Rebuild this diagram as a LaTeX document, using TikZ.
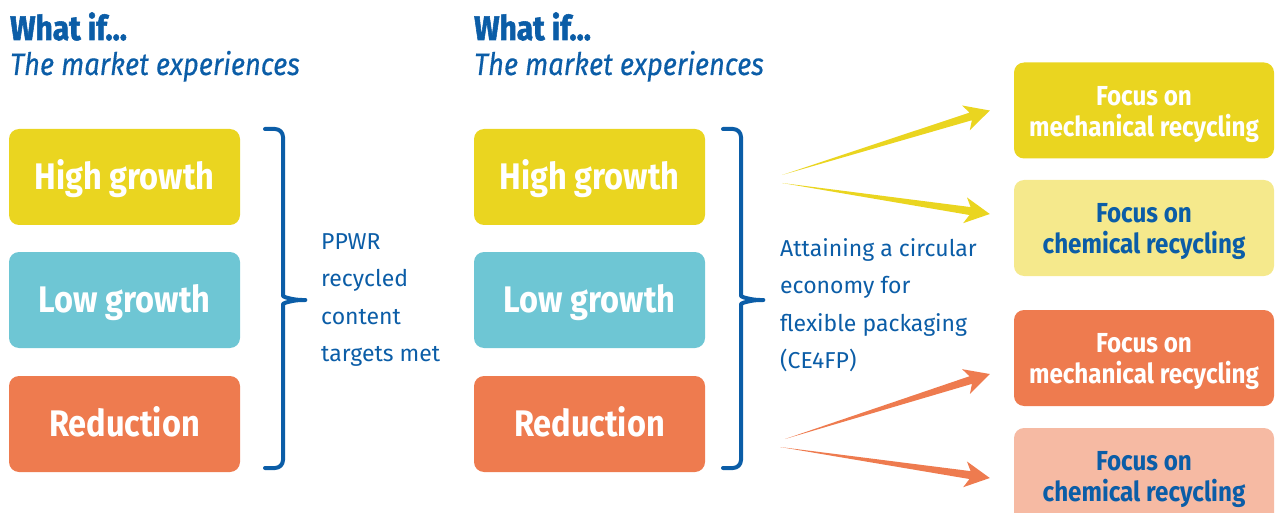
\documentclass[tikz,border=0pt]{standalone}
\usepackage{fontspec}
\setmainfont{Fira Sans}
\newfontfamily\boxfont{Fira Sans}[FakeStretch=0.88]
\newfontfamily\headfont{Fira Sans}[FakeStretch=0.88, BoldFeatures={FakeBold=1.6}, ItalicFeatures={FakeBold=0.4}]
\usetikzlibrary{calc}

\definecolor{cblue}{HTML}{0B5DA7}
\definecolor{cyellow}{HTML}{EAD520}
\definecolor{cyellowlt}{HTML}{F5E98C}
\definecolor{cteal}{HTML}{6EC6D4}
\definecolor{corange}{HTML}{EE7B4F}
\definecolor{corangelt}{HTML}{F6BAA3}

\begin{document}
\begin{tikzpicture}[x=1pt,y=-1pt,
  scenario/.style={rounded corners=10pt, minimum width=231pt, minimum height=96pt,
    inner sep=0pt, text height=25pt, text depth=0pt, text=white,
    font=\boxfont\bfseries\fontsize{37}{40}\selectfont},
  focus/.style={rounded corners=10pt, minimum width=260pt, minimum height=96pt,
    inner sep=0pt, align=center, text height=58pt,
    font=\boxfont\bfseries\fontsize{27.5}{31}\selectfont},
  brace/.style={cblue, line width=4pt, line cap=round, line join=round},
  label/.style={cblue, anchor=west, inner sep=0pt, align=left,
    font=\fontsize{23}{37.5}\selectfont},
  heading/.style={cblue, anchor=base west, inner sep=0pt,
    font=\headfont\bfseries\fontsize{34}{40}\selectfont},
  subheading/.style={cblue, anchor=base west, inner sep=0pt,
    font=\headfont\itshape\fontsize{31}{40}\selectfont}]

\useasboundingbox (0,0) rectangle (1277,513);

% column headings
\node[heading] (what1) at (10,40) {What if...};
\node[subheading] (market1) at (10,75) {The market experiences};
\node[heading] (what2) at (474,40) {What if...};
\node[subheading] (market2) at (474,75) {The market experiences};

% scenarios, twice
\node[scenario, fill=cyellow] (high1) at (124.5,177) {High growth};
\node[scenario, fill=cteal] (low1) at (124.5,300) {Low growth};
\node[scenario, fill=corange] (red1) at (124.5,424) {Reduction};

\node[scenario, fill=cyellow] (high2) at (589.5,177) {High growth};
\node[scenario, fill=cteal] (low2) at (589.5,300) {Low growth};
\node[scenario, fill=corange] (red2) at (589.5,424) {Reduction};

% braces
\foreach \dx in {0,458}
  \draw[brace, rounded corners=8pt] (265+\dx,129) -- (283+\dx,129) -- (283+\dx,288)
    .. controls (283+\dx,297) and (294+\dx,300) .. (310+\dx,300)
    .. controls (294+\dx,300) and (283+\dx,303) .. (283+\dx,312)
    -- (283+\dx,468) -- (265+\dx,468);

\node[label] (ppwr) at (321,300) {PPWR\\recycled\\content\\targets met};
\node[label] (ce4fp) at (780,305) {Attaining a circular\\economy for\\flexible packaging\\(CE4FP)};

% recycling routes
\node[focus, fill=cyellow, text=white] (mech1) at (1144,110.5) {Focus on\\mechanical recycling};
\node[focus, fill=cyellowlt, text=cblue] (chem1) at (1144,228) {Focus on\\chemical recycling};
\node[focus, fill=corange, text=white] (mech2) at (1144,358) {Focus on\\mechanical recycling};
\node[focus, fill=corangelt, text=cblue] (chem2) at (1144,476) {Focus on\\chemical recycling};

% tapered arrows
\coordinate (ys1) at (782,175);
\coordinate (ys2) at (782,183);
\coordinate (os1) at (785,439);
\coordinate (os2) at (780,447);
\coordinate (yt1) at ($(mech1.west)+(-24,0)$);
\coordinate (yt2) at ($(chem1.west)+(-24,-14)$);
\coordinate (ot1) at ($(mech2.west)+(-24,16)$);
\coordinate (ot2) at ($(chem2.west)+(-24,2)$);

\foreach \s/\t/\col in {ys1/yt1/cyellow, ys2/yt2/cyellow, os1/ot1/corange, os2/ot2/corange}{
  \coordinate (neck) at ($(\t)!20pt!(\s)$);
  \coordinate (back) at ($(\t)!25pt!(\s)$);
  \fill[\col] (\s) -- ($(neck)!4pt!90:(\s)$) -- ($(back)!13pt!90:(\s)$) -- (\t)
    -- ($(back)!13pt!-90:(\s)$) -- ($(neck)!4pt!-90:(\s)$) -- cycle;
}

\end{tikzpicture}
\end{document}
